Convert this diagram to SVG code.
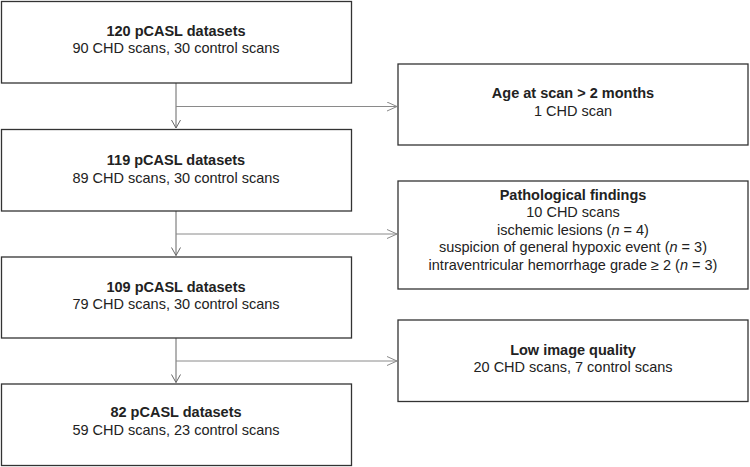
<svg xmlns="http://www.w3.org/2000/svg" width="750" height="467" viewBox="0 0 750 467">
<style>
.box{fill:#fff;stroke:#333;stroke-width:1.3}
text{font-family:"Liberation Sans",Arial,sans-serif;font-size:14.5px;fill:#222;text-anchor:middle}
.t{font-weight:bold}
.v{stroke:#666;stroke-width:1;fill:none}
.h{stroke:#8a8a8a;stroke-width:1;fill:none}
</style>
<defs>
<marker id="av" markerWidth="10" markerHeight="10" refX="9" refY="5" orient="auto" markerUnits="userSpaceOnUse">
<path d="M1,0.5 L9,5 L1,9.5" fill="none" stroke="#666" stroke-width="1"/>
</marker>
<marker id="ah" markerWidth="12" markerHeight="10" refX="11" refY="5" orient="auto" markerUnits="userSpaceOnUse">
<path d="M1,0.5 L11,5 L1,9.5" fill="none" stroke="#8a8a8a" stroke-width="1"/>
</marker>
</defs>
<rect width="750" height="467" fill="#fff"/>
<g id="connectors">
<line class="v" x1="176" y1="83" x2="176" y2="128" marker-end="url(#av)"/>
<line class="h" x1="176" y1="106.5" x2="397" y2="106.5" marker-end="url(#ah)"/>
<line class="v" x1="176" y1="211" x2="176" y2="255.5" marker-end="url(#av)"/>
<line class="h" x1="176" y1="234" x2="397" y2="234" marker-end="url(#ah)"/>
<line class="v" x1="176" y1="338" x2="176" y2="382.5" marker-end="url(#av)"/>
<line class="h" x1="176" y1="361" x2="397" y2="361" marker-end="url(#ah)"/>
</g>
<g id="n1">
<rect class="box" x="1.5" y="1.5" width="350" height="81.5"/>
<text class="t" x="176" y="36">120 pCASL datasets</text>
<text x="176" y="53.3">90 CHD scans, 30 control scans</text>
</g>
<g id="n2">
<rect class="box" x="1.5" y="129.5" width="350" height="81.5"/>
<text class="t" x="176" y="165">119 pCASL datasets</text>
<text x="176" y="182.5">89 CHD scans, 30 control scans</text>
</g>
<g id="n3">
<rect class="box" x="1.5" y="257" width="350" height="81"/>
<text class="t" x="176" y="291.7">109 pCASL datasets</text>
<text x="176" y="309.3">79 CHD scans, 30 control scans</text>
</g>
<g id="n4">
<rect class="box" x="1.5" y="384" width="350" height="81.5"/>
<text class="t" x="176" y="417.3">82 pCASL datasets</text>
<text x="176" y="434.5">59 CHD scans, 23 control scans</text>
</g>
<g id="e1">
<rect class="box" x="398" y="64" width="350" height="81"/>
<text class="t" x="573" y="98.3">Age at scan &gt; 2 months</text>
<text x="573" y="115.5">1 CHD scan</text>
</g>
<g id="e2">
<rect class="box" x="398" y="181" width="350" height="108"/>
<text class="t" x="573" y="200">Pathological findings</text>
<text x="573" y="217.3">10 CHD scans</text>
<text x="573" y="234.8">ischemic lesions (<tspan font-style="italic">n</tspan> = 4)</text>
<text x="573" y="252.3">suspicion of general hypoxic event (<tspan font-style="italic">n</tspan> = 3)</text>
<text x="573" y="269.8">intraventricular hemorrhage grade ≥ 2 (<tspan font-style="italic">n</tspan> = 3)</text>
</g>
<g id="e3">
<rect class="box" x="398" y="320" width="350" height="81.5"/>
<text class="t" x="573" y="355">Low image quality</text>
<text x="573" y="372">20 CHD scans, 7 control scans</text>
</g>
</svg>
